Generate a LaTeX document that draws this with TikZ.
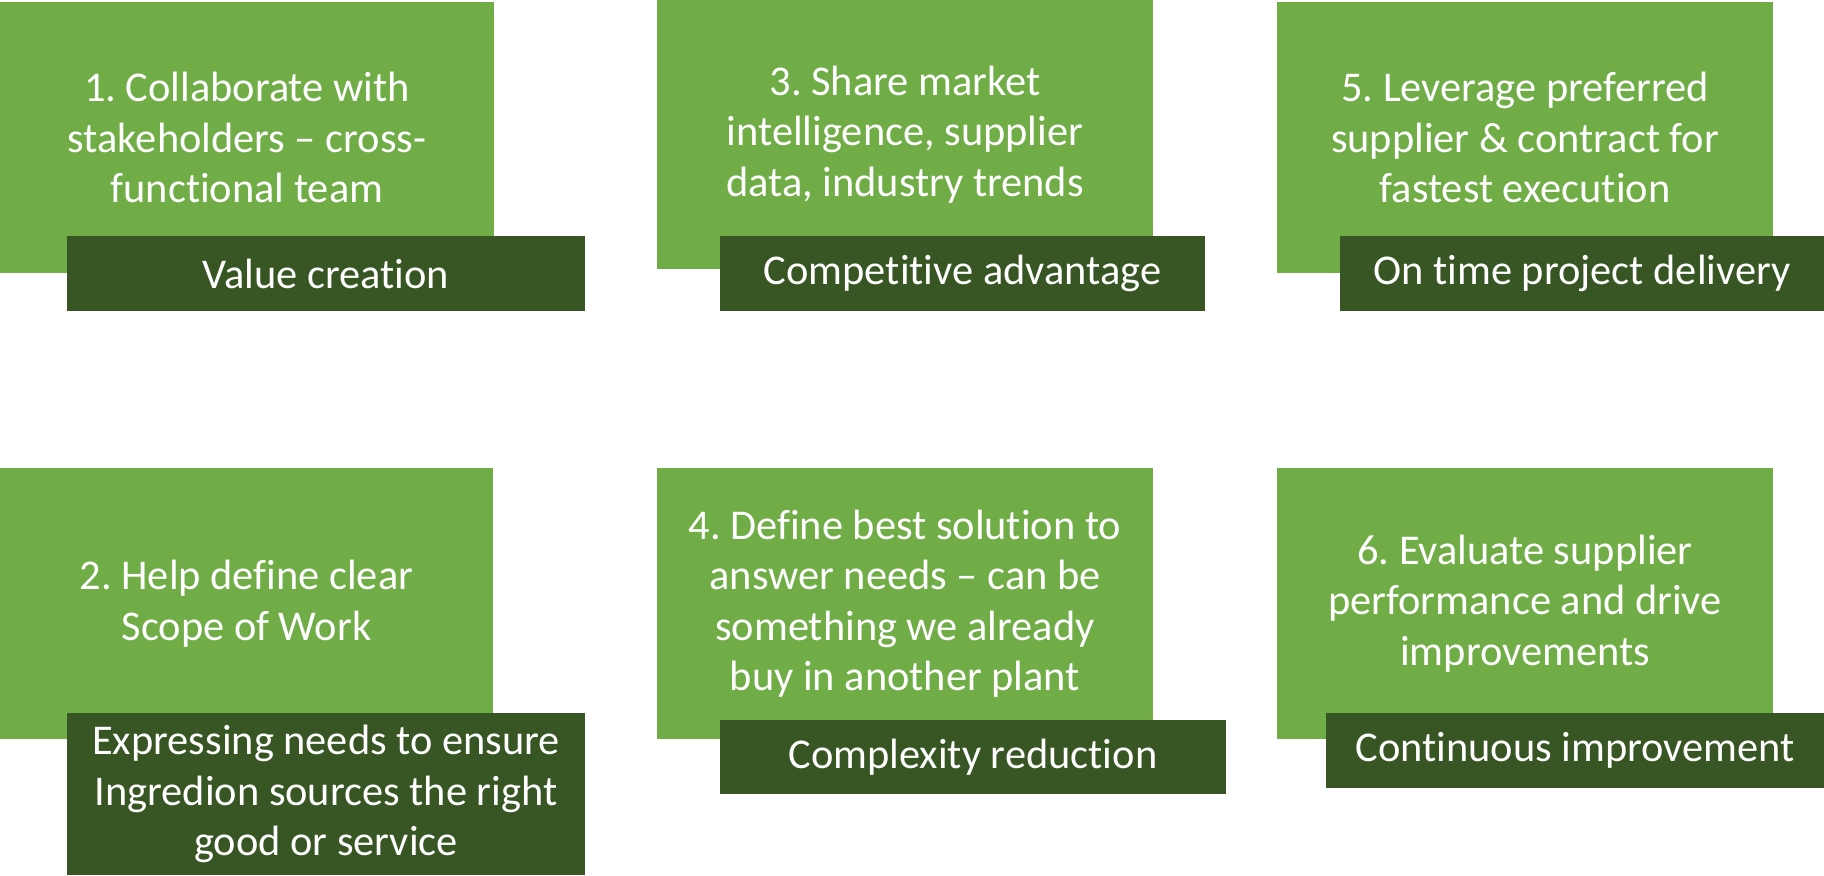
\documentclass[tikz,border=0pt]{standalone}
\usepackage{fontspec}
\setmainfont{Carlito}[Ligatures={NoCommon}]
\frenchspacing
\definecolor{lightg}{HTML}{70AD47}
\definecolor{darkg}{HTML}{375623}
\begin{document}
\begin{tikzpicture}[x=0.5pt,y=-0.5pt,
  box/.style={anchor=north west, inner sep=0pt, outer sep=0pt, align=center, text=white,
    font=\fontsize{21.2pt}{25.2pt}\selectfont},
  lightbox/.style={box, fill=lightg},
  darkbox/.style={box, fill=darkg}]
\useasboundingbox[fill=white] (0,0) rectangle (1824,875);
% row 1
\node[lightbox, minimum width=247pt, minimum height=135.5pt] (l1) at (0,2)
  {1. Collaborate with\\stakeholders -- cross-\\functional team};
\node[darkbox, minimum width=259pt, minimum height=37.5pt] (d1) at (67,236) {Value creation};
\node[lightbox, minimum width=248pt, minimum height=134.5pt] (l3) at (657,0)
  {3. Share market\\intelligence, supplier\\data, industry trends};
\node[darkbox, minimum width=242.5pt, minimum height=37.5pt] (d3) at (720,236) {Competitive advantage};
\node[lightbox, minimum width=248pt, minimum height=135.5pt] (l5) at (1277,2)
  {5. Leverage preferred\\supplier \& contract for\\fastest execution};
\node[darkbox, minimum width=242pt, minimum height=37.5pt] (d5) at (1340,236) {On time project delivery};
% row 2
\node[lightbox, minimum width=246.5pt, minimum height=135.5pt] (l2) at (0,468)
  {2. Help define clear\\Scope of Work};
\node[darkbox, minimum width=259pt, minimum height=81pt] (d2) at (67,713)
  {Expressing needs to ensure\\Ingredion sources the right\\good or service};
\node[lightbox, minimum width=248pt, minimum height=135.5pt] (l4) at (657,468)
  {4. Define best solution to\\answer needs -- can be\\something we already\\buy in another plant};
\node[darkbox, minimum width=253pt, minimum height=37pt] (d4) at (720,720) {Complexity reduction};
\node[lightbox, minimum width=248pt, minimum height=135.5pt] (l6) at (1277,468)
  {6. Evaluate supplier\\performance and drive\\improvements};
\node[darkbox, minimum width=249pt, minimum height=37.5pt] (d6) at (1326,713) {Continuous improvement};
\end{tikzpicture}
\end{document}
